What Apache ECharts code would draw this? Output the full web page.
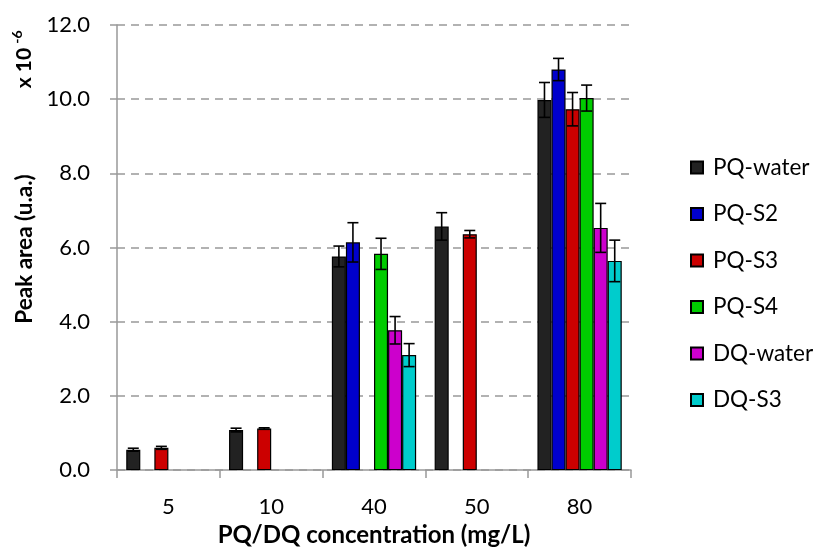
<!DOCTYPE html>
<html>
<head>
<meta charset="utf-8">
<script src="https://cdn.jsdelivr.net/npm/echarts@6/dist/echarts.min.js"></script>
<style>html,body{margin:0;padding:0;background:#fff;}#c{width:815px;height:552px;}</style>
</head>
<body>
<div id="c"></div>
<script>
var categories = ['5', '10', '40', '50', '80'];
var seriesNames = ['PQ-water', 'PQ-S2', 'PQ-S3', 'PQ-S4', 'DQ-water', 'DQ-S3'];
var pqWater = [0.55, 1.08, 5.76, 6.57, 9.98];
var pqWaterErr = [0.04, 0.05, 0.28, 0.37, 0.47];
var pqS2 = [null, null, 6.14, null, 10.80];
var pqS2Err = [null, null, 0.53, null, 0.30];
var pqS3 = [0.60, 1.12, null, 6.36, 9.73];
var pqS3Err = [0.04, 0.02, null, 0.10, 0.45];
var pqS4 = [null, null, 5.83, null, 10.03];
var pqS4Err = [null, null, 0.42, null, 0.35];
var dqWater = [null, null, 3.77, null, 6.53];
var dqWaterErr = [null, null, 0.37, null, 0.66];
var dqS3 = [null, null, 3.10, null, 5.64];
var dqS3Err = [null, null, 0.31, null, 0.56];
var yTicks = ['0.0', '2.0', '4.0', '6.0', '8.0', '10.0', '12.0'];

var values = [pqWater, pqS2, pqS3, pqS4, dqWater, dqS3];
var errors = [pqWaterErr, pqS2Err, pqS3Err, pqS4Err, dqWaterErr, dqS3Err];
var colors = ['#222222', '#0000cc', '#cc0000', '#00cc00', '#cc00cc', '#00cccc'];
var FONT = 'Lato, "Open Sans", sans-serif';
var CAT_GAP = 0.18;
var N = values.length;

var series = [];
values.forEach(function (vals, k) {
  series.push({
    name: seriesNames[k],
    type: 'bar',
    data: vals,
    barGap: '0%',
    barCategoryGap: (CAT_GAP * 100) + '%',
    itemStyle: { color: colors[k], borderColor: '#000', borderWidth: 1.2 },
    z: 2
  });
});
values.forEach(function (vals, k) {
  var d = [];
  vals.forEach(function (v, i) {
    if (v != null && errors[k][i] != null) d.push([i, v, errors[k][i]]);
  });
  series.push({
    name: seriesNames[k] + '-err',
    type: 'custom',
    data: d,
    z: 5,
    silent: true,
    renderItem: (function (slot) {
      return function (params, api) {
        var x = api.value(0), v = api.value(1), e = api.value(2);
        var top = api.coord([x, v + e]);
        var bot = api.coord([x, v - e]);
        var band = api.size([1, 0])[0];
        var used = band * (1 - CAT_GAP);
        var bw = used / N;
        var cx = top[0] - used / 2 + (slot + 0.5) * bw;
        var cap = 5.5;
        var st = { stroke: '#000', lineWidth: 1.6 };
        return {
          type: 'group',
          children: [
            { type: 'line', shape: { x1: cx, y1: top[1], x2: cx, y2: bot[1] }, style: st },
            { type: 'line', shape: { x1: cx - cap, y1: top[1], x2: cx + cap, y2: top[1] }, style: st },
            { type: 'line', shape: { x1: cx - cap, y1: bot[1], x2: cx + cap, y2: bot[1] }, style: st }
          ]
        };
      };
    })(k)
  });
});

var chart = echarts.init(document.getElementById('c'), null, { renderer: 'canvas' });
chart.setOption({
  animation: false,
  backgroundColor: '#fff',
  textStyle: { fontFamily: FONT },
  grid: { left: 117, right: 184, top: 25, bottom: 77.5, containLabel: false },
  legend: {
    data: seriesNames,
    orient: 'vertical',
    left: 685,
    top: 151,
    itemWidth: 12,
    itemHeight: 12,
    itemGap: 23.5,
    textStyle: { fontFamily: FONT, fontSize: 22.5, color: '#000', lineHeight: 22, padding: [0, 0, 0, 5] },
    icon: 'rect',
    selectedMode: false
  },
  xAxis: {
    type: 'category',
    data: categories,
    name: 'PQ/DQ concentration (mg/L)',
    nameLocation: 'middle',
    nameGap: 44.5,
    nameTextStyle: { fontFamily: FONT, fontSize: 24, fontWeight: 'bold', color: '#000' },
    axisLine: { lineStyle: { color: '#999', width: 1.5 } },
    axisTick: { show: true, alignWithLabel: false, length: 8, lineStyle: { color: '#999', width: 1.5 } },
    axisLabel: { fontFamily: FONT, fontSize: 22, color: '#000', margin: 26 },
    splitLine: { show: false }
  },
  yAxis: {
    type: 'value',
    min: 0,
    max: 12,
    interval: 2,
    axisLine: { show: true, lineStyle: { color: '#999', width: 1.5 } },
    axisTick: { show: true, inside: false, length: 7, lineStyle: { color: '#999', width: 1.5 } },
    axisLabel: {
      fontFamily: FONT, fontSize: 22, color: '#000', margin: 27,
      formatter: function (v) { return yTicks[Math.round(v / 2)]; }
    },
    splitLine: { show: true, lineStyle: { color: '#999', width: 1.5, type: [8, 6] } }
  },
  graphic: [
    {
      type: 'text', x: 25, y: 249, rotation: Math.PI / 2,
      style: { text: 'Peak area (u.a.)', fontFamily: FONT, fontSize: 22.5, fontWeight: 'bold', fill: '#000', align: 'center', verticalAlign: 'middle' }
    },
    {
      type: 'text', x: 24, y: 68, rotation: Math.PI / 2,
      style: { text: 'x 10', fontFamily: FONT, fontSize: 21, fontWeight: 'bold', fill: '#000', align: 'center', verticalAlign: 'middle' }
    },
    {
      type: 'text', x: 17, y: 37, rotation: Math.PI / 2,
      style: { text: '-6', fontFamily: FONT, fontSize: 14, fontWeight: 'bold', fill: '#000', align: 'center', verticalAlign: 'middle' }
    }
  ],
  series: series
});
</script>
</body>
</html>
